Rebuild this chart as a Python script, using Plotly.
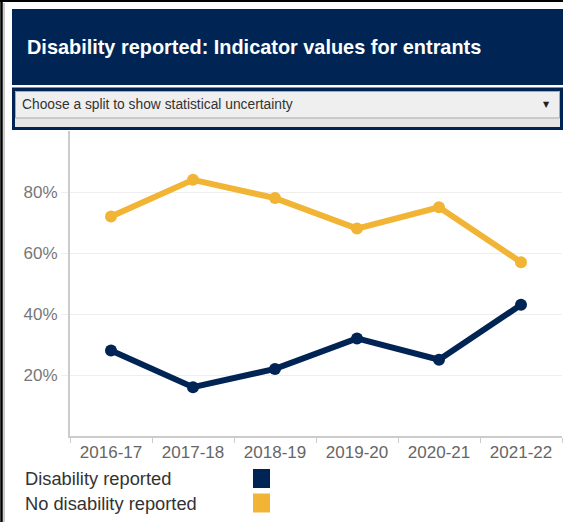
import plotly.graph_objects as go

# ---- data ----
years = ["2016-17", "2017-18", "2018-19", "2019-20", "2020-21", "2021-22"]
series_names = ["Disability reported", "No disability reported"]
disability = [28, 16, 22, 32, 25, 43]
no_disability = [72, 84, 78, 68, 75, 57]
series_values = [disability, no_disability]
series_colors = ["#002554", "#F1B434"]
y_ticks = [20, 40, 60, 80]
title_text = "Disability reported: Indicator values for entrants"
dropdown_text = "Choose a split to show statistical uncertainty"

W, H = 563, 522
L, R, T, B = 70, 1, 131, 86
PW, PH = W - L - R, H - T - B


def px(x):
    return (x - L) / PW


def py(y):
    return (H - B - y) / PH


fig = go.Figure()
for name, vals, col in zip(series_names, series_values, series_colors):
    fig.add_trace(go.Scatter(
        x=years, y=vals, name=name, mode="lines+markers",
        line=dict(color=col, width=6), marker=dict(color=col, size=12),
        showlegend=False, cliponaxis=False,
    ))

shapes = []
annotations = []
# outer border
shapes.append(dict(type="line", xref="paper", yref="paper", x0=px(1.5), x1=px(1.5), y0=py(0), y1=py(H),
                   line=dict(color="#000000", width=2.5), layer="above"))
shapes.append(dict(type="line", xref="paper", yref="paper", x0=px(0), x1=px(W), y0=py(1), y1=py(1),
                   line=dict(color="#000000", width=2), layer="above"))
shapes.append(dict(type="line", xref="paper", yref="paper", x0=px(4), x1=px(4), y0=py(3), y1=py(H),
                   line=dict(color="#9a9a9a", width=1), layer="above"))
# header
shapes.append(dict(type="rect", xref="paper", yref="paper", x0=px(12), x1=px(W), y0=py(9), y1=py(85),
                   fillcolor="#002554", line=dict(width=0)))
annotations.append(dict(xref="paper", yref="paper", x=px(25), y=py(47), xanchor="left", yanchor="middle",
                        text="<b>" + title_text + "</b>", showarrow=False,
                        font=dict(family="Arial, Liberation Sans", size=19.9, color="#ffffff")))
# dropdown frame
shapes.append(dict(type="rect", xref="paper", yref="paper", x0=px(12), x1=px(W), y0=py(87.5), y1=py(130),
                   fillcolor="#002554", line=dict(width=0)))
shapes.append(dict(type="rect", xref="paper", yref="paper", x0=px(15), x1=px(560), y0=py(91), y1=py(127),
                   fillcolor="#e6e6e6", line=dict(width=0)))
shapes.append(dict(type="rect", xref="paper", yref="paper", x0=px(15.5), x1=px(559.5), y0=py(91.5), y1=py(118),
                   fillcolor="#efefef", line=dict(color="#a9a9a9", width=1)))
annotations.append(dict(xref="paper", yref="paper", x=px(20), y=py(104.5), xanchor="left", yanchor="middle",
                        text=dropdown_text, showarrow=False,
                        font=dict(family="Arial, Liberation Sans", size=13.8, color="#333333")))
annotations.append(dict(xref="paper", yref="paper", x=px(546), y=py(105), xanchor="center", yanchor="middle",
                        text="▼", showarrow=False,
                        font=dict(family="DejaVu Sans", size=8, color="#222222")))
# legend
for i, (name, col) in enumerate(zip(series_names, series_colors)):
    yc = 478.5 + 24.5 * i
    annotations.append(dict(xref="paper", yref="paper", x=px(23), y=py(yc), xanchor="left", yanchor="middle",
                            text=name, showarrow=False,
                            font=dict(family="Arial, Liberation Sans", size=18.3, color="#333333")))
    shapes.append(dict(type="rect", xref="paper", yref="paper", x0=px(253), x1=px(270),
                       y0=py(yc - 9.5), y1=py(yc + 9.5), fillcolor=col, line=dict(width=0)))

fig.update_layout(
    width=W, height=H,
    margin=dict(l=L, r=R, t=T, b=B, pad=0),
    paper_bgcolor="#ffffff", plot_bgcolor="#ffffff",
    shapes=shapes, annotations=annotations,
    font=dict(family="Arial, Liberation Sans", color="#666666"),
    xaxis=dict(type="category", range=[-0.5, 5.5], tickson="boundaries", ticks="outside", ticklen=5,
               tickcolor="#cccccc", showline=True, linecolor="#cccccc", linewidth=2, showgrid=False,
               tickfont=dict(size=17, color="#666666"), fixedrange=True),
    yaxis=dict(range=[0, 100], tickvals=y_ticks, ticktext=[f"{v}%" for v in y_ticks],
               showline=True, linecolor="#cccccc", linewidth=2, gridcolor="#eeeeee", gridwidth=1,
               zeroline=False, ticks="outside", ticklen=7, tickcolor="#eeeeee",
               tickfont=dict(size=17, color="#777777"), fixedrange=True),
    showlegend=False,
)

fig.write_html("out.html", config={"displayModeBar": False},
               post_script="document.body.style.margin='0';document.body.style.padding='0';")
